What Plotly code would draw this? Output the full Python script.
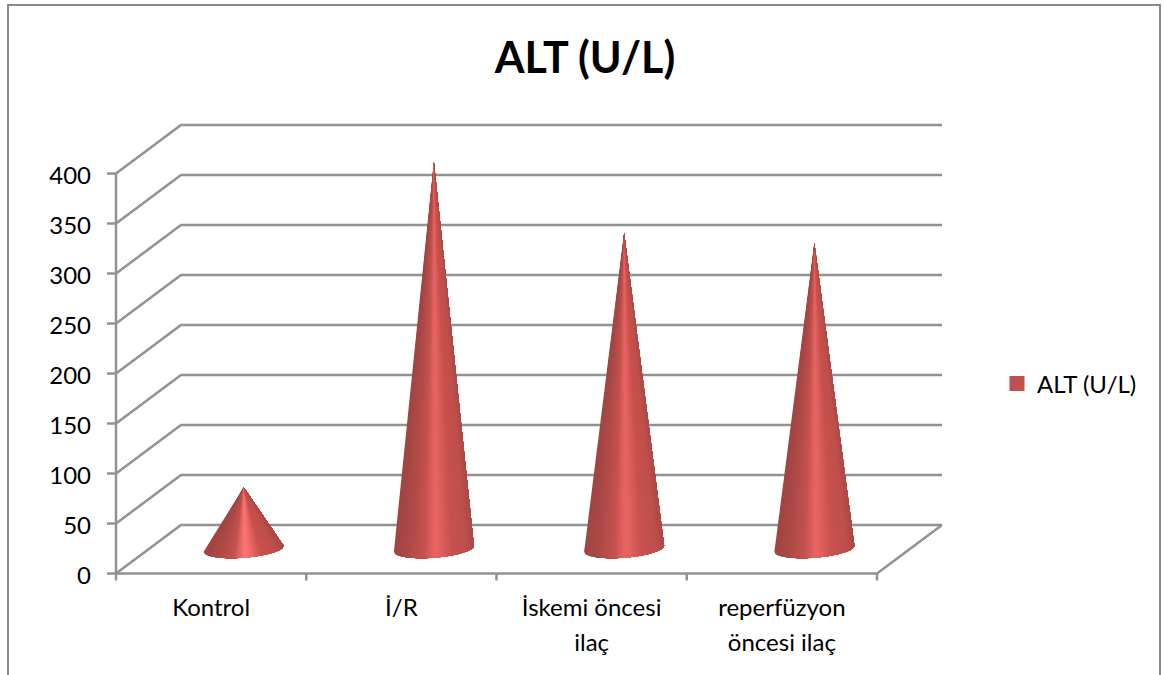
import plotly.graph_objects as go
import numpy as np

# ---- data ----
TITLE = "ALT (U/L)"
SERIES = "ALT (U/L)"
categories = ["Kontrol", "İ/R", "İskemi öncesi", "reperfüzyon"]
categories_line2 = ["", "", "ilaç", "öncesi ilaç"]
values = [62, 387, 316, 306]
y_ticks = [0, 50, 100, 150, 200, 250, 300, 350, 400]

# ---- projection of the oblique 3D box (1 value unit is about 1 px) ----
W, H = 1164, 675
X0, Y0, CAT = 116.0, 573.5, 190.25      # pixel origin and category width
DC, DV = 65 / CAT, 48.5                 # depth offset, category/value units
RX, TILT, RY = 40 / CAT, 3.0, 9.0       # cone base ellipse
GRID = "#929292"
TXT = "#000000"
FONT = "Lato"
LABEL_SIZE = 24
n = len(categories)

fig = go.Figure()

# walls and floor
gx, gy = [], []
for v in y_ticks:
    gx += [-9 / CAT, 0, DC, n + DC, None]
    gy += [v, v, v + DV, v + DV, None]
gx += [0, 0, None, 0, n, n + DC, None]
gy += [0, y_ticks[-1], None, 0, 0, DV, None]
for i in range(n + 1):
    gx += [i, i, None]
    gy += [0, -7, None]
fig.add_trace(go.Scatter(x=gx, y=gy, mode="lines", line=dict(color=GRID, width=2.5),
                         hoverinfo="skip", showlegend=False))

# cone shading
STOPS_U = [-1.0, -0.6, -0.25, 0.0, 0.1, 0.45, 0.8, 1.0]
def shade(u, peak):
    base = [(0xa0, 0x45, 0x43), (0xb0, 0x4b, 0x48), (0xc5, 0x52, 0x4f), peak, peak,
            (0xc8, 0x52, 0x4f), (0xc0, 0x50, 0x4d), (0xaa, 0x4a, 0x47)]
    c = [int(np.interp(u, STOPS_U, [b[k] for b in base])) for k in range(3)]
    return "rgb(%d,%d,%d)" % tuple(c)

for i, v in enumerate(values):
    cx = i + 0.5 + DC / 2
    cy = DV / 2 + 0.5
    apex = v + DV / 2
    peak = (0xfa, 0x72, 0x72) if v < 100 else (0xe6, 0x64, 0x62)
    us = np.linspace(-1, 1, 81)
    arc_t = np.arccos(us)
    arc_x = cx + RX * np.cos(arc_t)
    arc_y = cy + TILT * np.cos(arc_t) - RY * np.sin(arc_t)
    # painter's order: each polygon reaches the right edge, the next paints over it
    for k in range(len(us) - 1):
        col = shade((us[k] + us[k + 1]) / 2, peak)
        fig.add_trace(go.Scatter(
            x=[cx] + arc_x[k:].tolist() + [cx], y=[apex] + arc_y[k:].tolist() + [apex],
            mode="lines", fill="toself", fillcolor=col,
            line=dict(color=col, width=0), hoverinfo="skip", showlegend=False))

# legend entry
fig.add_trace(go.Scatter(x=[None], y=[None], mode="markers", name=SERIES,
                         marker=dict(symbol="square", size=15, color="#c0504d")))

# y tick labels
fig.add_trace(go.Scatter(x=[-25 / CAT] * len(y_ticks), y=[t - 4 for t in y_ticks], mode="text",
                         text=[str(t) for t in y_ticks], textposition="middle left",
                         textfont=dict(family=FONT, size=LABEL_SIZE, color=TXT),
                         hoverinfo="skip", showlegend=False))
# category labels
cat_x = [i + 0.5 for i in range(n)]
fig.add_trace(go.Scatter(x=cat_x, y=[-36] * n, mode="text", text=categories,
                         textposition="middle center",
                         textfont=dict(family=FONT, size=LABEL_SIZE, color=TXT),
                         hoverinfo="skip", showlegend=False))
fig.add_trace(go.Scatter(x=cat_x, y=[-71] * n, mode="text", text=categories_line2,
                         textposition="middle center",
                         textfont=dict(family=FONT, size=LABEL_SIZE, color=TXT),
                         hoverinfo="skip", showlegend=False))

fig.update_layout(
    width=W, height=H, margin=dict(l=0, r=0, t=0, b=0, pad=0),
    paper_bgcolor="white", plot_bgcolor="white",
    title=dict(text=TITLE, x=585 / W, xanchor="center", y=1 - 58 / H, yanchor="middle",
               font=dict(family=FONT, size=43, color=TXT, weight="bold")),
    xaxis=dict(range=[-X0 / CAT, (W - X0) / CAT], visible=False, fixedrange=True),
    yaxis=dict(range=[Y0 - H, Y0], visible=False, fixedrange=True),
    legend=dict(x=997 / W, y=1 - 384 / H, xanchor="left", yanchor="middle",
                font=dict(family=FONT, size=LABEL_SIZE, color=TXT),
                bgcolor="rgba(0,0,0,0)", itemwidth=30),
    showlegend=True,
    shapes=[dict(type="path", xref="paper", yref="paper",
                 path="M %f,-0.01 L %f,%f L %f,%f L %f,-0.01" % (
                     8 / W, 8 / W, 1 - 5 / H, 1160 / W, 1 - 5 / H, 1160 / W),
                 line=dict(color="#8a8a8a", width=2))],
)
fig.write_html("out.html", config=dict(displayModeBar=False),
               post_script="document.body.style.margin='0';document.body.style.overflow='hidden';")
